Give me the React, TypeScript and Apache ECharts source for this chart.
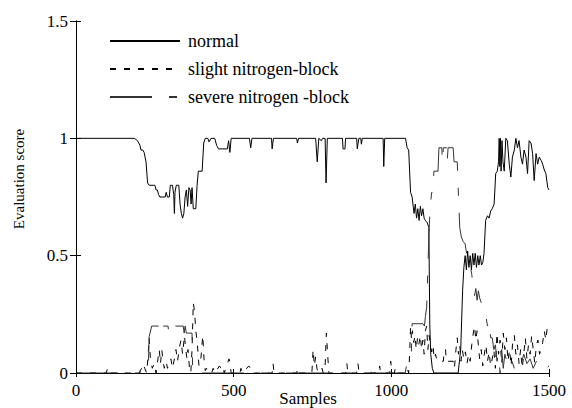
import React, { useEffect, useRef } from "react";
import * as echarts from "echarts";

const xTicks = [0, 500, 1000, 1500];
const yTicks = [0, 0.5, 1, 1.5];
const seriesNames = ["normal", "slight nitrogen-block", "severe nitrogen -block"];

const normalData: [number, number][] = [
  [0, 1], [185, 1], [195, 0.99], [203, 0.97], [206, 0.95], [212, 0.95], [216, 0.94], [222, 0.9], [227, 0.81], [232, 0.8],
  [250, 0.8], [254, 0.78], [258, 0.78], [262, 0.76], [266, 0.75], [283, 0.75], [286, 0.77], [290, 0.75], [296, 0.75],
  [299, 0.8], [306, 0.8], [310, 0.76], [312, 0.68], [314, 0.77], [318, 0.8], [326, 0.8], [330, 0.72], [334, 0.68],
  [338, 0.66], [342, 0.68], [346, 0.75], [350, 0.78], [354, 0.71], [358, 0.79], [362, 0.78], [365, 0.72], [368, 0.79],
  [372, 0.7], [380, 0.7], [384, 0.8], [388, 0.86], [400, 0.86], [405, 0.98], [410, 1.0], [418, 1.0], [422, 0.985],
  [428, 1.0], [440, 1.0], [446, 0.97], [452, 0.955], [480, 0.955], [484, 0.99], [488, 0.94], [492, 1.0], [550, 1.0],
  [554, 0.96], [558, 1.0], [620, 1.0], [622, 0.955], [626, 1.0], [700, 1.0], [702, 0.98], [706, 1.0], [760, 1.0],
  [765, 0.9], [770, 1.0], [778, 0.99], [782, 1.0], [790, 1.0], [793, 0.81], [797, 1.0], [845, 1.0], [847, 0.955],
  [853, 0.955], [855, 1.0], [890, 1.0], [892, 0.955], [897, 1.0], [903, 1.0], [905, 0.975], [908, 1.0], [974, 1.0],
  [976, 0.88], [979, 1.0], [1045, 1.0], [1050, 0.96], [1055, 0.95], [1061, 0.77], [1066, 0.75], [1072, 0.68],
  [1076, 0.72], [1080, 0.66], [1084, 0.7], [1088, 0.65], [1092, 0.71], [1096, 0.67], [1100, 0.7], [1104, 0.66],
  [1108, 0.65], [1114, 0.64], [1119, 0.62], [1122, 0.2], [1125, 0.08], [1130, 0.02], [1135, 0], [1212, 0],
  [1216, 0.05], [1220, 0.1], [1226, 0.35], [1230, 0.45], [1234, 0.5], [1238, 0.44], [1242, 0.52], [1246, 0.45],
  [1250, 0.5], [1254, 0.44], [1258, 0.51], [1262, 0.46], [1266, 0.51], [1270, 0.45], [1274, 0.5], [1278, 0.46],
  [1282, 0.5], [1286, 0.46], [1290, 0.47], [1294, 0.51], [1299, 0.65], [1305, 0.67], [1310, 0.66], [1315, 0.69],
  [1320, 0.7], [1326, 0.72], [1331, 0.85], [1336, 0.86], [1340, 0.9], [1342, 1.0], [1344, 0.88], [1346, 1.0],
  [1348, 0.86], [1351, 0.99], [1354, 0.9], [1358, 0.86], [1363, 1.0], [1368, 0.99], [1374, 0.89], [1379, 0.835],
  [1384, 0.92], [1390, 0.95], [1395, 1.0], [1400, 0.96], [1405, 0.99], [1411, 0.92], [1416, 0.89], [1421, 0.95],
  [1427, 0.92], [1432, 0.85], [1437, 0.99], [1443, 0.98], [1448, 0.935], [1453, 0.82], [1459, 0.935], [1464, 0.89],
  [1469, 0.92], [1475, 0.906], [1480, 0.89], [1485, 0.865], [1490, 0.85], [1496, 0.79], [1500, 0.78],
];

const slightData: [number, number][] = [
  [0, 0], [96, 0], [100, 0.02], [104, 0], [200, 0], [208, 0.02], [212, 0.04], [218, 0.02], [224, 0], [228, 0.06],
  [232, 0.15], [236, 0.06], [242, 0.02], [248, 0.04], [254, 0], [260, 0.06], [264, 0.1], [268, 0.04], [272, 0.1],
  [276, 0.05], [280, 0.02], [286, 0.05], [290, 0.02], [296, 0.04], [301, 0.06], [306, 0.02], [312, 0.06], [317, 0.1],
  [322, 0.05], [328, 0.11], [333, 0.14], [338, 0.08], [344, 0.16], [348, 0.1], [352, 0.06], [355, 0.1], [360, 0.02],
  [364, 0], [368, 0.1], [372, 0.3], [376, 0.26], [380, 0.18], [385, 0.12], [390, 0.03], [396, 0.06], [402, 0.16],
  [406, 0.06], [410, 0.01], [414, 0.02], [420, 0], [430, 0], [435, 0.02], [440, 0], [455, 0.03], [460, 0.02],
  [466, 0.03], [470, 0], [485, 0.06], [488, 0.05], [492, 0], [520, 0], [523, 0.02], [528, 0], [548, 0.03],
  [553, 0.02], [556, 0], [622, 0], [625, 0.04], [628, 0], [700, 0], [703, 0.02], [706, 0], [748, 0], [752, 0.1],
  [756, 0.03], [760, 0.07], [764, 0.02], [768, 0], [780, 0.02], [784, 0], [790, 0.03], [794, 0.17], [798, 0.08],
  [802, 0], [856, 0], [859, 0.04], [862, 0], [890, 0], [894, 0.04], [898, 0], [930, 0], [933, 0.02], [936, 0],
  [960, 0], [963, 0.03], [966, 0], [995, 0], [998, 0.05], [1002, 0], [1010, 0], [1012, 0.02], [1015, 0], [1045, 0],
  [1050, 0.02], [1055, 0], [1058, 0.08], [1061, 0.2], [1064, 0.14], [1067, 0.18], [1071, 0.13], [1075, 0.16],
  [1079, 0.1], [1083, 0.15], [1087, 0.12], [1092, 0.16], [1096, 0.1], [1100, 0.14], [1104, 0.08], [1108, 0.18],
  [1112, 0.2], [1116, 0.1], [1120, 0.16], [1124, 0.12], [1128, 0.09], [1132, 0.12], [1136, 0.06], [1140, 0.08],
  [1145, 0.05], [1165, 0.05], [1168, 0.1], [1172, 0.1], [1174, 0.05], [1196, 0.05], [1200, 0.02], [1205, 0.1],
  [1209, 0.15], [1213, 0.08], [1217, 0.12], [1221, 0.05], [1225, 0.1], [1230, 0.06], [1235, 0.09], [1240, 0.04],
  [1245, 0.08], [1250, 0.05], [1255, 0.12], [1260, 0.17], [1264, 0.2], [1268, 0.14], [1272, 0.18], [1276, 0.12],
  [1280, 0.06], [1285, 0.1], [1290, 0.03], [1295, 0.08], [1300, 0.12], [1305, 0.05], [1310, 0.09], [1315, 0.03],
  [1320, 0.06], [1325, 0.1], [1330, 0.02], [1335, 0.17], [1340, 0.08], [1345, 0.14], [1350, 0.04], [1355, 0.17],
  [1360, 0.1], [1365, 0.15], [1370, 0.05], [1375, 0.1], [1380, 0.03], [1385, 0.14], [1390, 0.16], [1395, 0.08],
  [1400, 0.12], [1405, 0.04], [1410, 0.1], [1415, 0.02], [1420, 0.08], [1425, 0.15], [1430, 0.06], [1435, 0.12],
  [1440, 0.08], [1445, 0.16], [1450, 0.1], [1455, 0.04], [1460, 0.12], [1465, 0.14], [1470, 0.08], [1475, 0.1],
  [1480, 0.13], [1485, 0.18], [1490, 0.14], [1495, 0.2], [1500, 0.18],
];

const severeData: [number, number][] = [
  [0, 0], [203, 0], [206, 0.055], [230, 0.055], [232, 0.155], [240, 0.2], [262, 0.2], [265, 0.17], [271, 0.17],
  [273, 0.2], [292, 0.2], [294, 0.17], [300, 0.17], [302, 0.2], [340, 0.2], [343, 0.17], [346, 0.2], [348, 0.2],
  [350, 0.17], [368, 0.17], [370, 0], [1044, 0], [1048, 0.03], [1055, 0.055], [1063, 0.06], [1066, 0.21],
  [1100, 0.21], [1105, 0.2], [1108, 0.24], [1112, 0.28], [1116, 0.45], [1120, 0.62], [1124, 0.72], [1128, 0.77],
  [1132, 0.77], [1135, 0.86], [1148, 0.86], [1151, 0.96], [1160, 0.96], [1162, 0.9], [1165, 0.96], [1175, 0.96],
  [1177, 0.9], [1180, 0.96], [1196, 0.96], [1199, 0.9], [1209, 0.9], [1213, 0.75], [1217, 0.62], [1222, 0.58],
  [1228, 0.56], [1234, 0.55], [1240, 0.5], [1245, 0.47], [1250, 0.46], [1255, 0.42], [1260, 0.36], [1264, 0.33],
  [1268, 0.36], [1272, 0.31], [1276, 0.35], [1280, 0.32], [1285, 0.3], [1290, 0.29], [1295, 0.26], [1300, 0.24],
  [1305, 0.2], [1310, 0.22], [1315, 0.15], [1320, 0.15], [1325, 0.1], [1330, 0.12], [1335, 0.05], [1340, 0.08],
  [1345, 0], [1350, 0.1], [1355, 0.02], [1360, 0.08], [1370, 0.03], [1380, 0.06], [1390, 0.02], [1400, 0.05],
  [1410, 0.03], [1420, 0.08], [1430, 0.04], [1440, 0.06], [1450, 0.02], [1460, 0.05], [1470, 0.03], [1480, 0.04],
  [1490, 0.02], [1500, 0.03],
];

const FONT = "Times New Roman, Liberation Serif, Times, DejaVu Serif, serif";

export default function App() {
  const ref = useRef<HTMLDivElement>(null);

  useEffect(() => {
    if (!ref.current) return;
    const chart = echarts.init(ref.current, undefined, { renderer: "svg" });
    const xInterval = xTicks[1] - xTicks[0];
    const yInterval = yTicks[1] - yTicks[0];
    const axisLine = { show: true, lineStyle: { color: "#000", width: 1 } };
    const fmt = (v: number) => String(v);
    chart.setOption({
      animation: false,
      backgroundColor: "#fff",
      textStyle: { fontFamily: FONT },
      grid: { left: 76, right: 23, top: 21, bottom: 35, containLabel: false, outerBoundsMode: "none" },
      legend: {
        orient: "vertical",
        left: 104,
        top: 27,
        itemWidth: 70,
        itemHeight: 14,
        itemGap: 10,
        selectedMode: false,
        data: seriesNames,
        itemStyle: { opacity: 0 },
        textStyle: { fontFamily: FONT, fontSize: 18, color: "#000", padding: [0, 0, 0, 3] },
      },
      xAxis: [
        {
          type: "value",
          position: "bottom",
          min: xTicks[0],
          max: xTicks[xTicks.length - 1],
          interval: xInterval,
          axisLine,
          axisTick: { show: true, inside: true, length: 4, lineStyle: { color: "#000" } },
          axisLabel: { color: "#000", fontFamily: FONT, fontSize: 17, margin: 9, formatter: fmt },
          splitLine: { show: false },
          name: "Samples",
          nameLocation: "middle",
          nameGap: 17,
          nameMoveOverlap: false,
          nameTextStyle: { color: "#000", fontFamily: FONT, fontSize: 17, padding: [0, 9, 0, 0] },
        },
        {
          type: "value",
          position: "top",
          min: xTicks[0],
          max: xTicks[xTicks.length - 1],
          interval: xInterval,
          axisLine,
          axisTick: { show: true, inside: true, length: 4, lineStyle: { color: "#000" } },
          axisLabel: { show: false },
          splitLine: { show: false },
        },
      ],
      yAxis: [
        {
          type: "value",
          position: "left",
          min: yTicks[0],
          max: yTicks[yTicks.length - 1],
          interval: yInterval,
          axisLine,
          axisTick: { show: true, inside: true, length: 5, lineStyle: { color: "#000" } },
          axisLabel: { color: "#000", fontFamily: FONT, fontSize: 17, margin: 8, formatter: fmt },
          splitLine: { show: false },
          name: "Evaluation score",
          nameLocation: "middle",
          nameGap: 50,
          nameMoveOverlap: false,
          nameTextStyle: { color: "#000", fontFamily: FONT, fontSize: 15, padding: [0, 0, 0, 36] },
        },
        {
          type: "value",
          position: "right",
          min: yTicks[0],
          max: yTicks[yTicks.length - 1],
          interval: yInterval,
          axisLine,
          axisTick: { show: true, inside: true, length: 6, lineStyle: { color: "#000" } },
          axisLabel: { show: false },
          splitLine: { show: false },
        },
      ],
      series: [
        {
          name: seriesNames[0],
          type: "line",
          xAxisIndex: 0,
          yAxisIndex: 0,
          data: normalData,
          symbol: "none",
          color: "#000",
          lineStyle: { color: "#000", width: 1, type: "solid" },
        },
        {
          name: seriesNames[1],
          type: "line",
          xAxisIndex: 0,
          yAxisIndex: 0,
          data: slightData,
          symbol: "none",
          color: "#000",
          lineStyle: { color: "#000", width: 1, type: [6, 8] },
        },
        {
          name: seriesNames[2],
          type: "line",
          xAxisIndex: 0,
          yAxisIndex: 0,
          data: severeData,
          symbol: "none",
          color: "#333",
          lineStyle: { color: "#333", width: 1, type: [42, 17, 8, 17] },
        },
      ],
    });
    return () => chart.dispose();
  }, []);

  return (
    <div
      ref={ref}
      style={{ position: "fixed", left: 0, top: 0, width: 572, height: 408, background: "#fff" }}
    />
  );
}
